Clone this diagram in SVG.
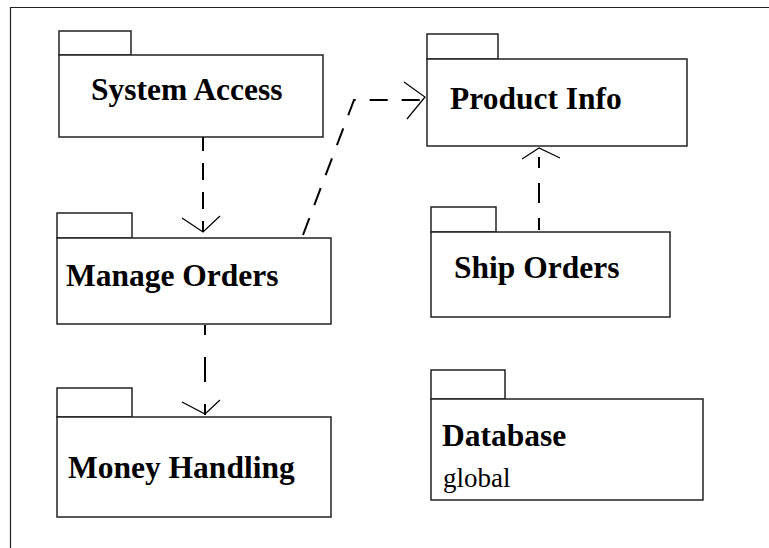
<svg xmlns="http://www.w3.org/2000/svg" width="769" height="548" viewBox="0 0 769 548">
<style>
.box{fill:#fff;stroke:#222;stroke-width:1.5}
.t{font-family:"Liberation Serif","Times New Roman",serif;font-weight:bold;font-size:31.5px;fill:#000}
.s{font-family:"Liberation Serif","Times New Roman",serif;font-size:27px;fill:#000}
.dep{fill:none;stroke:#000;stroke-width:2}
.head{fill:none;stroke:#000;stroke-width:1.2}
</style>
<rect width="769" height="548" fill="#fff"/>
<path d="M10.5,548 V7.5 H769" fill="none" stroke="#222" stroke-width="1.2"/>
<g id="connectors">
<path class="dep" d="M203,137 V232" stroke-dasharray="17 12" stroke-dashoffset="3"/>
<path class="head" d="M182,218 L203,232 L220,216"/>
<path class="dep" d="M205,325 V415" stroke-dasharray="25 22" stroke-dashoffset="15"/>
<path class="head" d="M182,402 L205,414 L220,400"/>
<path class="dep" d="M539,230 V157" stroke-dasharray="20 15" stroke-dashoffset="8"/>
<path class="head" d="M522,159 L539,148 L560,158"/>
<path class="dep" d="M303,235 L354,100 H423" stroke-dasharray="18 14"/>
<path class="head" d="M404,82 L425,97 L407,119"/>
</g>
<g id="system-access">
<rect class="box" x="59" y="31" width="72" height="24"/>
<rect class="box" x="59" y="55" width="264" height="82"/>
<text class="t" x="91" y="100">System Access</text>
</g>
<g id="product-info">
<rect class="box" x="427" y="34" width="71" height="25"/>
<rect class="box" x="427" y="59" width="260" height="87"/>
<text class="t" x="450" y="109">Product Info</text>
</g>
<g id="manage-orders">
<rect class="box" x="57" y="213" width="75" height="25"/>
<rect class="box" x="57" y="238" width="274" height="86"/>
<text class="t" x="66" y="286">Manage Orders</text>
</g>
<g id="ship-orders">
<rect class="box" x="431" y="207" width="65" height="25"/>
<rect class="box" x="431" y="232" width="239" height="85"/>
<text class="t" x="454" y="278">Ship Orders</text>
</g>
<g id="money-handling">
<rect class="box" x="57" y="388" width="75" height="29"/>
<rect class="box" x="57" y="417" width="274" height="100"/>
<text class="t" x="68" y="478">Money Handling</text>
</g>
<g id="database">
<rect class="box" x="431" y="370" width="74" height="29"/>
<rect class="box" x="431" y="399" width="272" height="101"/>
<text class="t" x="442" y="446">Database</text>
<text class="s" x="443" y="487">global</text>
</g>
</svg>
